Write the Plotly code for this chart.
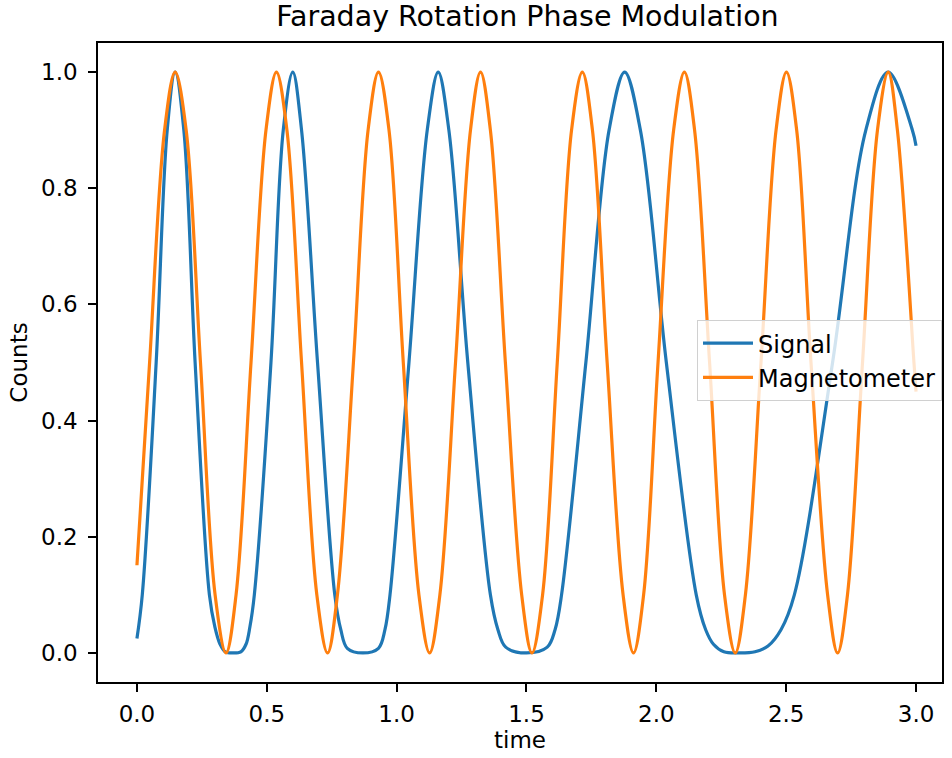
import plotly.graph_objects as go

# Time samples (s) and normalised counts for each trace
signal_time = [0.0, 0.0205, 0.074, 0.1165, 0.147, 0.1805, 0.224, 0.279,
               0.30, 0.32, 0.34, 0.37, 0.40, 0.42, 0.435, 0.452,
               0.516, 0.5634, 0.600, 0.6338, 0.6953, 0.7618,
               0.785, 0.81, 0.87, 0.93, 0.955, 0.9744,
               1.0474, 1.1178, 1.160, 1.2011, 1.274, 1.361,
               1.39, 1.42, 1.50, 1.58, 1.61, 1.635,
               1.7286, 1.818, 1.878, 1.9386, 2.0385, 2.1537,
               2.19, 2.22, 2.26, 2.32, 2.38, 2.43, 2.48, 2.5314,
               2.6787, 2.8067, 2.893, 2.986, 3.0]
signal_counts = [0.025, 0.10, 0.50, 0.90, 1.0, 0.90, 0.50, 0.10,
                 0.045, 0.015, 0.002, 0.0, 0.002, 0.015, 0.045, 0.10,
                 0.50, 0.90, 1.0, 0.90, 0.50, 0.10,
                 0.04, 0.008, 0.0, 0.008, 0.04, 0.10,
                 0.50, 0.90, 1.0, 0.90, 0.50, 0.10,
                 0.04, 0.01, 0.0, 0.01, 0.04, 0.10,
                 0.50, 0.90, 1.0, 0.90, 0.50, 0.10,
                 0.04, 0.015, 0.002, 0.0, 0.002, 0.012, 0.04, 0.10,
                 0.50, 0.90, 1.0, 0.90, 0.873]

mag_time = [0.0, 0.0487, 0.1063, 0.147, 0.1895, 0.2446, 0.3009, 0.343,
            0.3816, 0.4392, 0.4968, 0.537, 0.5775, 0.6338, 0.6927, 0.734,
            0.772, 0.8336, 0.890, 0.930, 0.9706, 1.0256, 1.0858, 1.127,
            1.1665, 1.2267, 1.2843, 1.323, 1.361, 1.4187, 1.4815, 1.521,
            1.562, 1.6185, 1.6735, 1.715, 1.754, 1.8106, 1.872, 1.912,
            1.951, 2.0065, 2.0666, 2.108, 2.1473, 2.205, 2.2625, 2.304,
            2.343, 2.403, 2.461, 2.501, 2.5404, 2.5955, 2.6595, 2.698,
            2.736, 2.794, 2.8515, 2.893, 2.9283, 2.992, 3.0]
mag_counts = [0.151, 0.5, 0.9, 1.0, 0.9, 0.5, 0.1, 0.0,
              0.1, 0.5, 0.9, 1.0, 0.9, 0.5, 0.1, 0.0,
              0.1, 0.5, 0.9, 1.0, 0.9, 0.5, 0.1, 0.0,
              0.1, 0.5, 0.9, 1.0, 0.9, 0.5, 0.1, 0.0,
              0.1, 0.5, 0.9, 1.0, 0.9, 0.5, 0.1, 0.0,
              0.1, 0.5, 0.9, 1.0, 0.9, 0.5, 0.1, 0.0,
              0.1, 0.5, 0.9, 1.0, 0.9, 0.5, 0.1, 0.0,
              0.1, 0.5, 0.9, 1.0, 0.9, 0.5, 0.45]

x_ticks = [0.0, 0.5, 1.0, 1.5, 2.0, 2.5, 3.0]
y_ticks = [0.0, 0.2, 0.4, 0.6, 0.8, 1.0]

FONT = "DejaVu Sans"

fig = go.Figure()
fig.add_trace(go.Scatter(x=signal_time, y=signal_counts, mode="lines", name="Signal",
                         line=dict(color="#1f77b4", width=3.2, shape="spline", smoothing=1.0)))
fig.add_trace(go.Scatter(x=mag_time, y=mag_counts, mode="lines", name="Magnetometer",
                         line=dict(color="#ff7f0e", width=3.2, shape="spline", smoothing=1.0)))

axis_common = dict(showgrid=False, zeroline=False, showline=True, linecolor="black",
                   linewidth=1.5, mirror=True, ticks="outside", ticklen=8, tickwidth=1.5,
                   tickcolor="black", tickfont=dict(family=FONT, size=23, color="black"),
                   tickformat=".1f")

fig.update_layout(
    width=952, height=758,
    margin=dict(l=98, r=8, t=43, b=76),
    paper_bgcolor="white", plot_bgcolor="white",
    font=dict(family=FONT, size=23, color="black"),
    title=dict(text="Faraday Rotation Phase Modulation", x=0.554, xref="container",
               xanchor="center", y=0.979, yref="container", yanchor="middle",
               font=dict(family=FONT, size=28.5, color="black")),
    xaxis=dict(range=[-0.15, 3.10], tickvals=x_ticks, ticklabelstandoff=3,
               title=dict(text="time", standoff=4, font=dict(family=FONT, size=23)),
               **axis_common),
    yaxis=dict(range=[-0.05, 1.05], tickvals=y_ticks, ticklabelstandoff=6,
               title=dict(text="Counts", standoff=7, font=dict(family=FONT, size=23)),
               **axis_common),
    legend=dict(x=1.0, xanchor="right", y=0.503, yanchor="middle", itemwidth=50,
                bgcolor="rgba(255,255,255,0.8)", bordercolor="#d0d0d0", borderwidth=1,
                font=dict(family=FONT, size=24, color="black")),
    showlegend=True,
)

fig.write_html("out.html")
